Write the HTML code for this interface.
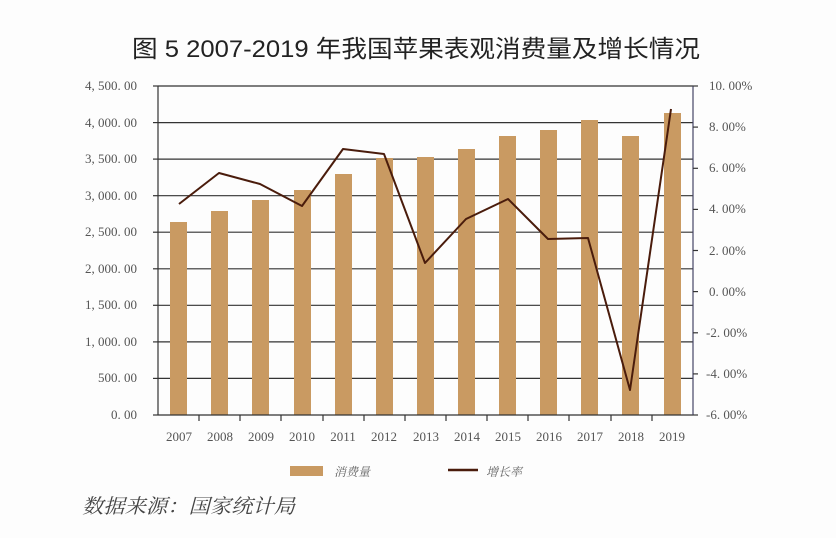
<!DOCTYPE html>
<html><head><meta charset="utf-8"><style>
body{margin:0;background:#fff}
svg{display:block}
</style></head><body>
<svg width="836" height="538" viewBox="0 0 836 538" xmlns="http://www.w3.org/2000/svg">
<rect width="836" height="538" fill="#fdfdfd"/>
<text x="416" y="57" text-anchor="middle" font-family="Liberation Sans, Noto Sans CJK SC, sans-serif" font-size="24" fill="#222" textLength="568" lengthAdjust="spacingAndGlyphs">图 5  2007-2019 年我国苹果表观消费量及增长情况</text>
<g stroke="#333" stroke-width="1.2">
<line x1="158" y1="86" x2="693" y2="86"/>
<line x1="158" y1="122.6" x2="693" y2="122.6"/>
<line x1="158" y1="159.1" x2="693" y2="159.1"/>
<line x1="158" y1="195.7" x2="693" y2="195.7"/>
<line x1="158" y1="232.2" x2="693" y2="232.2"/>
<line x1="158" y1="268.8" x2="693" y2="268.8"/>
<line x1="158" y1="305.3" x2="693" y2="305.3"/>
<line x1="158" y1="341.9" x2="693" y2="341.9"/>
<line x1="158" y1="378.4" x2="693" y2="378.4"/>
</g>
<g fill="#c99a62">
<rect x="170" y="222" width="17" height="193"/>
<rect x="211" y="211" width="17" height="204"/>
<rect x="252" y="200" width="17" height="215"/>
<rect x="294" y="190" width="17" height="225"/>
<rect x="335" y="174" width="17" height="241"/>
<rect x="376" y="158" width="17" height="257"/>
<rect x="417" y="157" width="17" height="258"/>
<rect x="458" y="149" width="17" height="266"/>
<rect x="499" y="136" width="17" height="279"/>
<rect x="540" y="130" width="17" height="285"/>
<rect x="581" y="120" width="17" height="295"/>
<rect x="622" y="136" width="17" height="279"/>
<rect x="664" y="113" width="17" height="302"/>
</g>
<g stroke="#333" stroke-width="1.2" fill="none">
<line x1="158" y1="415" x2="693" y2="415"/>
<line x1="158" y1="86" x2="158" y2="415"/>
<line x1="693" y1="86" x2="693" y2="415" stroke="#446"/>
</g>
<g stroke="#333" stroke-width="1.2">
<line x1="153" y1="86" x2="158" y2="86"/><line x1="153" y1="122.6" x2="158" y2="122.6"/><line x1="153" y1="159.1" x2="158" y2="159.1"/><line x1="153" y1="195.7" x2="158" y2="195.7"/><line x1="153" y1="232.2" x2="158" y2="232.2"/><line x1="153" y1="268.8" x2="158" y2="268.8"/><line x1="153" y1="305.3" x2="158" y2="305.3"/><line x1="153" y1="341.9" x2="158" y2="341.9"/><line x1="153" y1="378.4" x2="158" y2="378.4"/><line x1="153" y1="415" x2="158" y2="415"/>
<line x1="693" y1="86" x2="698" y2="86"/><line x1="693" y1="127.1" x2="698" y2="127.1"/><line x1="693" y1="168.3" x2="698" y2="168.3"/><line x1="693" y1="209.4" x2="698" y2="209.4"/><line x1="693" y1="250.5" x2="698" y2="250.5"/><line x1="693" y1="291.6" x2="698" y2="291.6"/><line x1="693" y1="332.8" x2="698" y2="332.8"/><line x1="693" y1="373.9" x2="698" y2="373.9"/><line x1="693" y1="415" x2="698" y2="415"/>
<line x1="199" y1="415" x2="199" y2="421"/><line x1="240" y1="415" x2="240" y2="421"/><line x1="281" y1="415" x2="281" y2="421"/><line x1="323" y1="415" x2="323" y2="421"/><line x1="364" y1="415" x2="364" y2="421"/><line x1="405" y1="415" x2="405" y2="421"/><line x1="446" y1="415" x2="446" y2="421"/><line x1="487" y1="415" x2="487" y2="421"/><line x1="528" y1="415" x2="528" y2="421"/><line x1="569" y1="415" x2="569" y2="421"/><line x1="611" y1="415" x2="611" y2="421"/><line x1="652" y1="415" x2="652" y2="421"/>
</g>
<polyline fill="none" stroke="#4a1c0c" stroke-width="2" stroke-linejoin="round" points="179,204 219,173 260,184 302,206 343,149 384,154 425,263 466,219 508,199 548,239 588,238 630,390 671,109"/>
<g font-family="Liberation Serif, serif" font-size="13" fill="#555" text-anchor="end">
<text x="137" y="90">4, 500. 00</text><text x="137" y="127">4, 000. 00</text><text x="137" y="163">3, 500. 00</text><text x="137" y="200">3, 000. 00</text><text x="137" y="236">2, 500. 00</text><text x="137" y="273">2, 000. 00</text><text x="137" y="309">1, 500. 00</text><text x="137" y="346">1, 000. 00</text><text x="137" y="382">500. 00</text><text x="137" y="419">0. 00</text>
</g>
<g font-family="Liberation Serif, serif" font-size="13" fill="#555">
<text x="709" y="90">10. 00%</text><text x="709" y="131">8. 00%</text><text x="709" y="172">6. 00%</text><text x="709" y="213">4. 00%</text><text x="709" y="255">2. 00%</text><text x="709" y="296">0. 00%</text><text x="706" y="337">-2. 00%</text><text x="706" y="378">-4. 00%</text><text x="706" y="419">-6. 00%</text>
</g>
<g font-family="Liberation Serif, serif" font-size="13" fill="#555" text-anchor="middle">
<text x="179" y="441">2007</text><text x="220" y="441">2008</text><text x="261" y="441">2009</text><text x="302" y="441">2010</text><text x="343" y="441">2011</text><text x="384" y="441">2012</text><text x="426" y="441">2013</text><text x="467" y="441">2014</text><text x="508" y="441">2015</text><text x="549" y="441">2016</text><text x="590" y="441">2017</text><text x="631" y="441">2018</text><text x="672" y="441">2019</text>
</g>
<rect x="290" y="466" width="33" height="10" fill="#c99a62"/>
<text x="334" y="476" font-family="Liberation Serif, Noto Serif CJK SC, serif" font-size="12" font-style="italic" fill="#666">消费量</text>
<line x1="448" y1="470" x2="478" y2="470" stroke="#4a1c0c" stroke-width="2.5"/>
<text x="486" y="476" font-family="Liberation Serif, Noto Serif CJK SC, serif" font-size="12" font-style="italic" fill="#666">增长率</text>
<text x="82" y="513" font-family="Liberation Serif, Noto Serif CJK SC, serif" font-size="20" font-style="italic" fill="#444" textLength="213" lengthAdjust="spacingAndGlyphs">数据来源：国家统计局</text>
</svg>
</body></html>
